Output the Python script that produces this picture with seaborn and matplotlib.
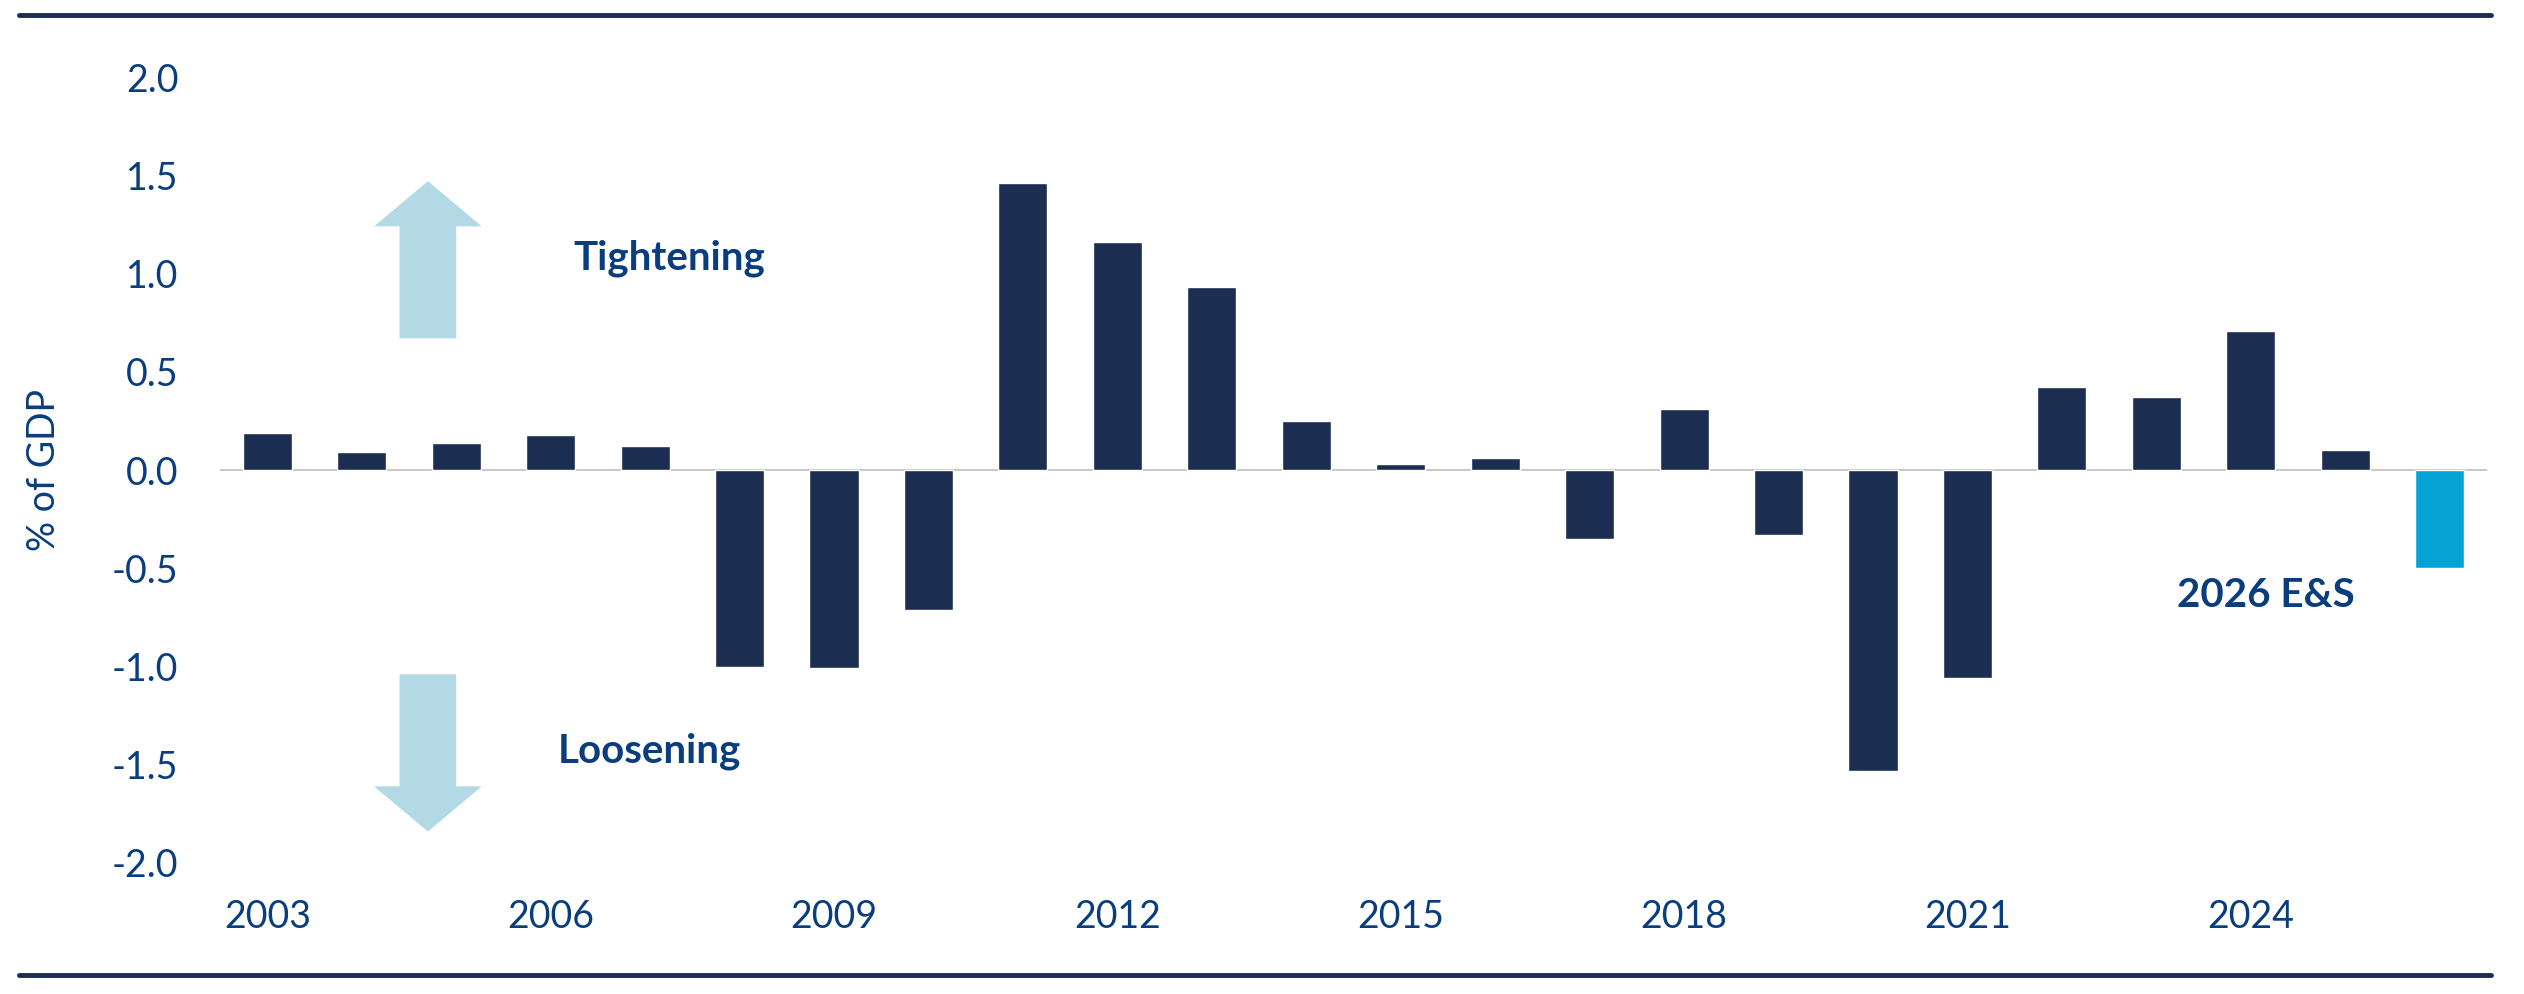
import matplotlib
matplotlib.use("Agg")
import matplotlib.pyplot as plt
from matplotlib.lines import Line2D
from matplotlib.patches import FancyArrow
import pandas as pd
import seaborn as sns

years = [str(y) for y in range(2003, 2027)]
values = [0.19, 0.09, 0.14, 0.18, 0.12, -1.00, -1.01, -0.71, 1.46, 1.16, 0.93, 0.25,
          0.03, 0.06, -0.35, 0.31, -0.33, -1.53, -1.06, 0.42, 0.37, 0.71, 0.10, -0.50]
kind = ["Actual"] * 23 + ["E&S"]
tick_years = ["2003", "2006", "2009", "2012", "2015", "2018", "2021", "2024"]

navy = "#1c2d52"
cyan = "#05a3d4"
text_blue = "#0a3d7e"
arrow_blue = "#b3d9e6"

sns.set_style("white")
plt.rcParams["font.family"] = ["Lato", "DejaVu Sans"]

df = pd.DataFrame({"year": years, "value": values, "kind": kind})

fig = plt.figure(figsize=(25.24, 9.94), dpi=100)
ax = fig.add_axes([0.0872, 0.1318, 0.8981, 0.7907])

sns.barplot(data=df, x="year", y="value", hue="kind", palette={"Actual": navy, "E&S": cyan},
            width=0.52, legend=False, ax=ax, saturation=1)

ax.set_ylim(-2, 2)
ax.set_xlim(-0.5, len(years) - 0.5)
ax.axhline(0, color="#bfbfbf", lw=1.2, zorder=0)
yt = [-2, -1.5, -1, -0.5, 0, 0.5, 1, 1.5, 2]
ax.set_yticks(yt)
ax.set_yticklabels([f"{v:.1f}" for v in yt])
ax.set_xticks([years.index(y) for y in tick_years])
ax.set_xticklabels(tick_years)
ax.tick_params(axis="both", length=0, labelsize=27, colors=text_blue)
ax.tick_params(axis="x", pad=26)
ax.tick_params(axis="y", pad=30)
ax.set_xlabel("")
ax.set_ylabel("% of GDP", fontsize=27, color=text_blue, labelpad=36)
for s in ax.spines.values():
    s.set_visible(False)

# arrows
ax.add_patch(FancyArrow(1.7, 0.67, 0, 0.80, width=0.6, head_width=1.14, head_length=0.23,
                        length_includes_head=True, color=arrow_blue, lw=0))
ax.add_patch(FancyArrow(1.7, -1.04, 0, -0.80, width=0.6, head_width=1.14, head_length=0.23,
                        length_includes_head=True, color=arrow_blue, lw=0))

ax.text(4.26, 1.08, "Tightening", fontsize=29, fontweight="bold", color=text_blue,
        ha="center", va="center")
ax.text(4.05, -1.43, "Loosening", fontsize=29, fontweight="bold", color=text_blue,
        ha="center", va="center")
ax.text(21.16, -0.64, "2026 E&S", fontsize=29, fontweight="bold", color=text_blue,
        ha="center", va="center")

# rule lines at top and bottom
fig.add_artist(Line2D([0.0075, 0.987], [0.985, 0.985], color=navy, lw=3.5))
fig.add_artist(Line2D([0.0075, 0.987], [0.019, 0.019], color=navy, lw=3.5))

fig.savefig("out.png", dpi=100)
